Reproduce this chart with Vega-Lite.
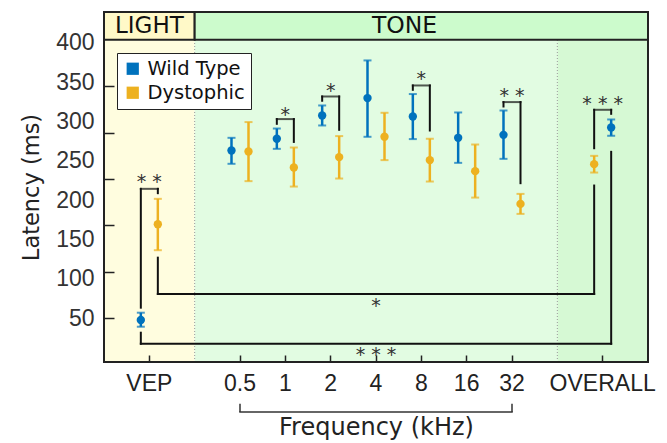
{
  "$schema": "https://vega.github.io/schema/vega-lite/v6.json",
  "width": 544,
  "height": 350,
  "autosize": {"type": "none"},
  "padding": {"left": 104, "top": 12, "right": 19, "bottom": 81},
  "background": "white",
  "config": {"view": {"stroke": null}, "axis": {"grid": false}},
  "datasets": {
    "stats": [
      {"cat": "VEP", "genotype": "Wild Type", "mean": 47.8, "lo": 39.3, "hi": 57.1},
      {"cat": "VEP", "genotype": "Dystophic", "mean": 169.5, "lo": 136.5, "hi": 201.7},
      {"cat": "0.5", "genotype": "Wild Type", "mean": 263.1, "lo": 246.2, "hi": 279.2},
      {"cat": "0.5", "genotype": "Dystophic", "mean": 261.8, "lo": 224.2, "hi": 299.2},
      {"cat": "1", "genotype": "Wild Type", "mean": 278, "lo": 265.2, "hi": 291},
      {"cat": "1", "genotype": "Dystophic", "mean": 241.5, "lo": 217.3, "hi": 266.9},
      {"cat": "2", "genotype": "Wild Type", "mean": 307.6, "lo": 294.9, "hi": 320.3},
      {"cat": "2", "genotype": "Dystophic", "mean": 254.7, "lo": 227.5, "hi": 281.4},
      {"cat": "4", "genotype": "Wild Type", "mean": 329.7, "lo": 280.5, "hi": 377.5},
      {"cat": "4", "genotype": "Dystophic", "mean": 280.5, "lo": 250.9, "hi": 311},
      {"cat": "8", "genotype": "Wild Type", "mean": 306.3, "lo": 277.6, "hi": 334.8},
      {"cat": "8", "genotype": "Dystophic", "mean": 250.9, "lo": 223.7, "hi": 278},
      {"cat": "16", "genotype": "Wild Type", "mean": 279.2, "lo": 247.4, "hi": 311.4},
      {"cat": "16", "genotype": "Dystophic", "mean": 236.9, "lo": 203.3, "hi": 270.7},
      {"cat": "32", "genotype": "Wild Type", "mean": 283, "lo": 252.5, "hi": 313.9},
      {"cat": "32", "genotype": "Dystophic", "mean": 195.3, "lo": 182.6, "hi": 208},
      {"cat": "OVERALL", "genotype": "Wild Type", "mean": 292.3, "lo": 281.8, "hi": 302.5},
      {"cat": "OVERALL", "genotype": "Dystophic", "mean": 245.8, "lo": 235.1, "hi": 256.3}
    ],
    "legs": [
      {"cat": "VEP", "genotype": "Wild Type", "from": 63.5, "to": 214.4},
      {"cat": "VEP", "genotype": "Dystophic", "from": 208.9, "to": 214.4},
      {"cat": "1", "genotype": "Wild Type", "from": 297, "to": 303},
      {"cat": "1", "genotype": "Dystophic", "from": 274, "to": 303},
      {"cat": "2", "genotype": "Wild Type", "from": 326.3, "to": 331.7},
      {"cat": "2", "genotype": "Dystophic", "from": 289.4, "to": 331.7},
      {"cat": "8", "genotype": "Wild Type", "from": 340.2, "to": 345.7},
      {"cat": "8", "genotype": "Dystophic", "from": 288.5, "to": 345.7},
      {"cat": "32", "genotype": "Wild Type", "from": 319, "to": 324.6},
      {"cat": "32", "genotype": "Dystophic", "from": 221.6, "to": 324.6},
      {"cat": "OVERALL", "genotype": "Dystophic", "from": 266, "to": 314.8},
      {"cat": "OVERALL", "genotype": "Wild Type", "from": 309.7, "to": 314.8},
      {"cat": "VEP", "genotype": "Dystophic", "from": 80.9, "to": 127},
      {"cat": "OVERALL", "genotype": "Dystophic", "from": 80.9, "to": 218.6},
      {"cat": "VEP", "genotype": "Wild Type", "from": 17.7, "to": 31.7},
      {"cat": "OVERALL", "genotype": "Wild Type", "from": 17.7, "to": 261.4}
    ],
    "bars": [
      {"cat": "VEP", "y": 214.4},
      {"cat": "1", "y": 303},
      {"cat": "2", "y": 331.7},
      {"cat": "8", "y": 345.7},
      {"cat": "32", "y": 324.6},
      {"cat": "OVERALL", "y": 314.8}
    ],
    "stars": [
      {"cat": "VEP", "y": 223, "label": "* *"},
      {"cat": "1", "y": 308.5, "label": "*"},
      {"cat": "2", "y": 338.2, "label": "*"},
      {"cat": "8", "y": 353.5, "label": "*"},
      {"cat": "32", "y": 332.3, "label": "* *"},
      {"cat": "OVERALL", "y": 321.7, "label": "* * *"},
      {"cat": "4", "y": 65.5, "label": "*"},
      {"cat": "4", "y": 3.5, "label": "* * *"}
    ]
  },
  "layer": [
    {
      "data": {"values": [{}]},
      "mark": {"type": "rect", "fill": "#FFFDDF"},
      "encoding": {
        "x": {"datum": "VEP", "type": "nominal", "bandPosition": -0.5, "scale": {"type": "band", "domain": ["VEP", "g1", "0.5", "1", "2", "4", "8", "16", "32", "g2", "OVERALL"], "paddingInner": 0, "paddingOuter": 0.5},
          "axis": {"orient": "bottom", "bandPosition": 0.5, "values": ["VEP", "0.5", "1", "2", "4", "8", "16", "32", "OVERALL"], "title": "Frequency (kHz)", "domain": false, "ticks": false, "labelFont": "Liberation Sans", "labelFontSize": 23, "labelColor": "#222", "labelPadding": 10, "labelAngle": 0, "titleFont": "DejaVu Sans", "titleFontSize": 24, "titleFontWeight": "normal", "titleColor": "#222", "titlePadding": 20, "zindex": 1}},
        "x2": {"datum": "g1", "bandPosition": 0.5},
        "y": {"datum": -5.5, "type": "quantitative", "scale": {"domain": [-5.5, 439], "nice": false, "zero": false},
          "axis": {"orient": "left", "values": [50, 100, 150, 200, 250, 300, 350, 400], "ticks": false, "domain": false, "grid": false, "labelFont": "Liberation Sans", "labelFontSize": 23, "labelColor": "#333", "labelPadding": 10, "title": "Latency (ms)", "titleFont": "DejaVu Sans", "titleFontSize": 22.5, "titleFontWeight": "normal", "titleColor": "#222", "titlePadding": 12, "zindex": 1}},
        "y2": {"datum": 403.8}
      }
    },
    {
      "data": {"values": [{}]},
      "mark": {"type": "rect", "fill": "#E2FCE2"},
      "encoding": {
        "x": {"datum": "g1", "type": "nominal", "bandPosition": 0.5, "scale": {"type": "band", "domain": ["VEP", "g1", "0.5", "1", "2", "4", "8", "16", "32", "g2", "OVERALL"], "paddingInner": 0, "paddingOuter": 0.5},
          "axis": {"orient": "top", "offset": -350, "bandPosition": 0.5, "values": ["VEP", "0.5", "1", "2", "4", "8", "16", "32", "OVERALL"], "labels": false, "domain": false, "ticks": true, "tickSize": 7, "tickColor": "#222", "tickWidth": 1.5, "title": null, "zindex": 2}},
        "x2": {"datum": "g2", "bandPosition": 0.5},
        "y": {"datum": -5.5, "type": "quantitative", "scale": {"domain": [-5.5, 439], "nice": false, "zero": false},
          "axis": {"orient": "right", "offset": -544, "values": [50.8, 109.3, 168.6, 226.7, 285.2, 344.4], "labels": false, "domain": false, "grid": false, "ticks": true, "tickSize": 10, "tickColor": "#222", "tickWidth": 1.5, "title": null, "zindex": 2}},
        "y2": {"datum": 403.8}
      }
    },
    {
      "data": {"values": [{}]},
      "mark": {"type": "rect", "fill": "#D6F9D4"},
      "encoding": {
        "x": {"datum": "g2", "type": "nominal", "bandPosition": 0.5, "scale": {"type": "band", "domain": ["VEP", "g1", "0.5", "1", "2", "4", "8", "16", "32", "g2", "OVERALL"], "paddingInner": 0, "paddingOuter": 0.5}, "axis": null},
        "x2": {"datum": "OVERALL", "bandPosition": 1.5},
        "y": {"datum": -5.5, "type": "quantitative", "scale": {"domain": [-5.5, 439], "nice": false, "zero": false}, "axis": null},
        "y2": {"datum": 403.8}
      }
    },
    {
      "data": {"values": [{"cat": "g1"}, {"cat": "g2"}]},
      "mark": {"type": "rule", "color": "#999999", "strokeWidth": 1, "strokeDash": [1, 2]},
      "encoding": {
        "x": {"field": "cat", "type": "nominal", "scale": {"type": "band", "domain": ["VEP", "g1", "0.5", "1", "2", "4", "8", "16", "32", "g2", "OVERALL"], "paddingInner": 0, "paddingOuter": 0.5}, "axis": null},
        "y": {"datum": -5.5, "type": "quantitative", "scale": {"domain": [-5.5, 439], "nice": false, "zero": false}, "axis": null},
        "y2": {"datum": 403.8}
      }
    },
    {
      "data": {"values": [{}]},
      "mark": {"type": "rect", "fill": "#FFF9C8", "stroke": "#222222", "strokeWidth": 2},
      "encoding": {
        "x": {"datum": "VEP", "type": "nominal", "bandPosition": -0.5, "scale": {"type": "band", "domain": ["VEP", "g1", "0.5", "1", "2", "4", "8", "16", "32", "g2", "OVERALL"], "paddingInner": 0, "paddingOuter": 0.5}, "axis": null},
        "x2": {"datum": "g1", "bandPosition": 0.5},
        "y": {"datum": 403.8, "type": "quantitative", "scale": {"domain": [-5.5, 439], "nice": false, "zero": false}, "axis": null},
        "y2": {"datum": 439}
      }
    },
    {
      "data": {"values": [{}]},
      "mark": {"type": "rect", "fill": "#CCFBCC", "stroke": "#222222", "strokeWidth": 2},
      "encoding": {
        "x": {"datum": "g1", "type": "nominal", "bandPosition": 0.5, "scale": {"type": "band", "domain": ["VEP", "g1", "0.5", "1", "2", "4", "8", "16", "32", "g2", "OVERALL"], "paddingInner": 0, "paddingOuter": 0.5}, "axis": null},
        "x2": {"datum": "OVERALL", "bandPosition": 1.5},
        "y": {"datum": 403.8, "type": "quantitative", "scale": {"domain": [-5.5, 439], "nice": false, "zero": false}, "axis": null},
        "y2": {"datum": 439}
      }
    },
    {
      "data": {"values": [{"label": "LIGHT"}]},
      "mark": {"type": "text", "font": "DejaVu Sans", "fontSize": 23, "color": "#111111", "baseline": "middle", "align": "center"},
      "encoding": {
        "x": {"datum": "VEP", "type": "nominal", "scale": {"type": "band", "domain": ["VEP", "g1", "0.5", "1", "2", "4", "8", "16", "32", "g2", "OVERALL"], "paddingInner": 0, "paddingOuter": 0.5}, "axis": null},
        "y": {"datum": 421.6, "type": "quantitative", "scale": {"domain": [-5.5, 439], "nice": false, "zero": false}, "axis": null},
        "text": {"field": "label"}
      }
    },
    {
      "data": {"values": [{"label": "TONE"}]},
      "mark": {"type": "text", "font": "DejaVu Sans", "fontSize": 23.5, "color": "#111111", "baseline": "middle", "align": "center"},
      "encoding": {
        "x": {"datum": "8", "type": "nominal", "bandPosition": 0.13, "scale": {"type": "band", "domain": ["VEP", "g1", "0.5", "1", "2", "4", "8", "16", "32", "g2", "OVERALL"], "paddingInner": 0, "paddingOuter": 0.5}, "axis": null},
        "y": {"datum": 421.6, "type": "quantitative", "scale": {"domain": [-5.5, 439], "nice": false, "zero": false}, "axis": null},
        "text": {"field": "label"}
      }
    },
    {
      "data": {"values": [{"cat": "0.5"}, {"cat": "32"}]},
      "mark": {"type": "rule", "color": "#333333", "strokeWidth": 1.5},
      "encoding": {
        "x": {"field": "cat", "type": "nominal", "scale": {"type": "band", "domain": ["VEP", "g1", "0.5", "1", "2", "4", "8", "16", "32", "g2", "OVERALL"], "paddingInner": 0, "paddingOuter": 0.5}, "axis": null},
        "y": {"datum": -58.6, "type": "quantitative", "scale": {"domain": [-5.5, 439], "nice": false, "zero": false}, "axis": null},
        "y2": {"datum": -69.1}
      }
    },
    {
      "data": {"values": [{}]},
      "mark": {"type": "rule", "color": "#333333", "strokeWidth": 1.5, "strokeCap": "square"},
      "encoding": {
        "x": {"datum": "0.5", "type": "nominal", "bandPosition": 0.5, "scale": {"type": "band", "domain": ["VEP", "g1", "0.5", "1", "2", "4", "8", "16", "32", "g2", "OVERALL"], "paddingInner": 0, "paddingOuter": 0.5}, "axis": null},
        "x2": {"datum": "32", "bandPosition": 0.5},
        "y": {"datum": -69.1, "type": "quantitative", "scale": {"domain": [-5.5, 439], "nice": false, "zero": false}, "axis": null}
      }
    },
    {
      "layer": [
        {
          "data": {"name": "stats"},
          "transform": [{"filter": "datum.cat != 'OVERALL'"}],
          "mark": {"type": "rule", "strokeWidth": 2.5},
          "encoding": {
            "x": {"field": "cat", "type": "nominal", "scale": {"type": "band", "domain": ["VEP", "g1", "0.5", "1", "2", "4", "8", "16", "32", "g2", "OVERALL"], "paddingInner": 0, "paddingOuter": 0.5}, "axis": null},
            "xOffset": {"field": "genotype", "type": "nominal", "scale": {"type": "band", "domain": ["Wild Type", "Dystophic"], "paddingInner": 0, "paddingOuter": 0.333}},
            "y": {"field": "lo", "type": "quantitative", "scale": {"domain": [-5.5, 439], "nice": false, "zero": false}, "axis": null},
            "y2": {"field": "hi"},
            "stroke": {"field": "genotype", "type": "nominal", "scale": {"domain": ["Dystophic", "Wild Type"], "range": ["#EDB120", "#0072BD"]}, "legend": null}
          }
        },
        {
          "data": {"name": "stats"},
          "transform": [{"filter": "datum.cat != 'OVERALL'"}],
          "mark": {"type": "tick", "thickness": 2, "size": 8, "orient": "horizontal"},
          "encoding": {
            "x": {"field": "cat", "type": "nominal", "scale": {"type": "band", "domain": ["VEP", "g1", "0.5", "1", "2", "4", "8", "16", "32", "g2", "OVERALL"], "paddingInner": 0, "paddingOuter": 0.5}, "axis": null},
            "xOffset": {"field": "genotype", "type": "nominal", "scale": {"type": "band", "domain": ["Wild Type", "Dystophic"], "paddingInner": 0, "paddingOuter": 0.333}},
            "y": {"field": "lo", "type": "quantitative", "scale": {"domain": [-5.5, 439], "nice": false, "zero": false}, "axis": null},
            "fill": {"field": "genotype", "type": "nominal", "scale": {"domain": ["Dystophic", "Wild Type", "none"], "range": ["#EDB120", "#0072BD", "#000000"]}, "legend": null}
          }
        },
        {
          "data": {"name": "stats"},
          "transform": [{"filter": "datum.cat != 'OVERALL'"}],
          "mark": {"type": "tick", "thickness": 2, "size": 8, "orient": "horizontal"},
          "encoding": {
            "x": {"field": "cat", "type": "nominal", "scale": {"type": "band", "domain": ["VEP", "g1", "0.5", "1", "2", "4", "8", "16", "32", "g2", "OVERALL"], "paddingInner": 0, "paddingOuter": 0.5}, "axis": null},
            "xOffset": {"field": "genotype", "type": "nominal", "scale": {"type": "band", "domain": ["Wild Type", "Dystophic"], "paddingInner": 0, "paddingOuter": 0.333}},
            "y": {"field": "hi", "type": "quantitative", "scale": {"domain": [-5.5, 439], "nice": false, "zero": false}, "axis": null},
            "fill": {"field": "genotype", "type": "nominal", "scale": {"domain": ["Dystophic", "Wild Type", "none"], "range": ["#EDB120", "#0072BD", "#000000"]}, "legend": null}
          }
        },
        {
          "data": {"name": "stats"},
          "transform": [{"filter": "datum.cat != 'OVERALL'"}],
          "mark": {"type": "circle", "size": 70, "opacity": 1},
          "encoding": {
            "x": {"field": "cat", "type": "nominal", "scale": {"type": "band", "domain": ["VEP", "g1", "0.5", "1", "2", "4", "8", "16", "32", "g2", "OVERALL"], "paddingInner": 0, "paddingOuter": 0.5}, "axis": null},
            "xOffset": {"field": "genotype", "type": "nominal", "scale": {"type": "band", "domain": ["Wild Type", "Dystophic"], "paddingInner": 0, "paddingOuter": 0.333}},
            "y": {"field": "mean", "type": "quantitative", "scale": {"domain": [-5.5, 439], "nice": false, "zero": false}, "axis": null},
            "color": {"field": "genotype", "type": "nominal", "scale": {"domain": ["Wild Type", "Dystophic"], "range": ["#0072BD", "#EDB120"]},
              "legend": {"orient": "none", "legendX": 13, "legendY": 41, "title": null, "symbolType": "square", "symbolSize": 150, "symbolStrokeWidth": 0, "labelFont": "DejaVu Sans", "labelFontSize": 19.5, "labelColor": "#111", "labelOffset": 5, "strokeColor": "#222", "fillColor": "white", "padding": 6, "rowPadding": 3}}
          }
        },
        {
          "data": {"name": "legs"},
          "transform": [{"filter": "datum.cat != 'OVERALL'"}],
          "mark": {"type": "rule", "color": "#111111", "strokeWidth": 2, "strokeCap": "square"},
          "encoding": {
            "x": {"field": "cat", "type": "nominal", "scale": {"type": "band", "domain": ["VEP", "g1", "0.5", "1", "2", "4", "8", "16", "32", "g2", "OVERALL"], "paddingInner": 0, "paddingOuter": 0.5}, "axis": null},
            "xOffset": {"field": "genotype", "type": "nominal", "scale": {"type": "band", "domain": ["Wild Type", "Dystophic"], "paddingInner": 0, "paddingOuter": 0.333}},
            "y": {"field": "from", "type": "quantitative", "scale": {"domain": [-5.5, 439], "nice": false, "zero": false}, "axis": null},
            "y2": {"field": "to"}
          }
        }
      ]
    },
    {
      "layer": [
        {
          "data": {"name": "stats"},
          "transform": [{"filter": "datum.cat == 'OVERALL'"}],
          "mark": {"type": "rule", "strokeWidth": 2.5},
          "encoding": {
            "x": {"field": "cat", "type": "nominal", "scale": {"type": "band", "domain": ["VEP", "g1", "0.5", "1", "2", "4", "8", "16", "32", "g2", "OVERALL"], "paddingInner": 0, "paddingOuter": 0.5}, "axis": null},
            "xOffset": {"field": "genotype", "type": "nominal", "scale": {"type": "band", "domain": ["Dystophic", "Wild Type"], "paddingInner": 0, "paddingOuter": 0.333}},
            "y": {"field": "lo", "type": "quantitative", "scale": {"domain": [-5.5, 439], "nice": false, "zero": false}, "axis": null},
            "y2": {"field": "hi"},
            "stroke": {"field": "genotype", "type": "nominal", "scale": {"domain": ["Dystophic", "Wild Type"], "range": ["#EDB120", "#0072BD"]}, "legend": null}
          }
        },
        {
          "data": {"name": "stats"},
          "transform": [{"filter": "datum.cat == 'OVERALL'"}],
          "mark": {"type": "tick", "thickness": 2, "size": 8, "orient": "horizontal"},
          "encoding": {
            "x": {"field": "cat", "type": "nominal", "scale": {"type": "band", "domain": ["VEP", "g1", "0.5", "1", "2", "4", "8", "16", "32", "g2", "OVERALL"], "paddingInner": 0, "paddingOuter": 0.5}, "axis": null},
            "xOffset": {"field": "genotype", "type": "nominal", "scale": {"type": "band", "domain": ["Dystophic", "Wild Type"], "paddingInner": 0, "paddingOuter": 0.333}},
            "y": {"field": "lo", "type": "quantitative", "scale": {"domain": [-5.5, 439], "nice": false, "zero": false}, "axis": null},
            "fill": {"field": "genotype", "type": "nominal", "scale": {"domain": ["Dystophic", "Wild Type", "none"], "range": ["#EDB120", "#0072BD", "#000000"]}, "legend": null}
          }
        },
        {
          "data": {"name": "stats"},
          "transform": [{"filter": "datum.cat == 'OVERALL'"}],
          "mark": {"type": "tick", "thickness": 2, "size": 8, "orient": "horizontal"},
          "encoding": {
            "x": {"field": "cat", "type": "nominal", "scale": {"type": "band", "domain": ["VEP", "g1", "0.5", "1", "2", "4", "8", "16", "32", "g2", "OVERALL"], "paddingInner": 0, "paddingOuter": 0.5}, "axis": null},
            "xOffset": {"field": "genotype", "type": "nominal", "scale": {"type": "band", "domain": ["Dystophic", "Wild Type"], "paddingInner": 0, "paddingOuter": 0.333}},
            "y": {"field": "hi", "type": "quantitative", "scale": {"domain": [-5.5, 439], "nice": false, "zero": false}, "axis": null},
            "fill": {"field": "genotype", "type": "nominal", "scale": {"domain": ["Dystophic", "Wild Type", "none"], "range": ["#EDB120", "#0072BD", "#000000"]}, "legend": null}
          }
        },
        {
          "data": {"name": "stats"},
          "transform": [{"filter": "datum.cat == 'OVERALL'"}],
          "mark": {"type": "circle", "size": 70, "opacity": 1},
          "encoding": {
            "x": {"field": "cat", "type": "nominal", "scale": {"type": "band", "domain": ["VEP", "g1", "0.5", "1", "2", "4", "8", "16", "32", "g2", "OVERALL"], "paddingInner": 0, "paddingOuter": 0.5}, "axis": null},
            "xOffset": {"field": "genotype", "type": "nominal", "scale": {"type": "band", "domain": ["Dystophic", "Wild Type"], "paddingInner": 0, "paddingOuter": 0.333}},
            "y": {"field": "mean", "type": "quantitative", "scale": {"domain": [-5.5, 439], "nice": false, "zero": false}, "axis": null},
            "color": {"field": "genotype", "type": "nominal", "scale": {"domain": ["Wild Type", "Dystophic"], "range": ["#0072BD", "#EDB120"]},
              "legend": {"orient": "none", "legendX": 13, "legendY": 41, "title": null, "symbolType": "square", "symbolSize": 150, "symbolStrokeWidth": 0, "labelFont": "DejaVu Sans", "labelFontSize": 19.5, "labelColor": "#111", "labelOffset": 5, "strokeColor": "#222", "fillColor": "white", "padding": 6, "rowPadding": 3}}
          }
        },
        {
          "data": {"name": "legs"},
          "transform": [{"filter": "datum.cat == 'OVERALL'"}],
          "mark": {"type": "rule", "color": "#111111", "strokeWidth": 2, "strokeCap": "square"},
          "encoding": {
            "x": {"field": "cat", "type": "nominal", "scale": {"type": "band", "domain": ["VEP", "g1", "0.5", "1", "2", "4", "8", "16", "32", "g2", "OVERALL"], "paddingInner": 0, "paddingOuter": 0.5}, "axis": null},
            "xOffset": {"field": "genotype", "type": "nominal", "scale": {"type": "band", "domain": ["Dystophic", "Wild Type"], "paddingInner": 0, "paddingOuter": 0.333}},
            "y": {"field": "from", "type": "quantitative", "scale": {"domain": [-5.5, 439], "nice": false, "zero": false}, "axis": null},
            "y2": {"field": "to"}
          }
        }
      ]
    },
    {
      "data": {"name": "bars"},
      "mark": {"type": "tick", "color": "#111111", "thickness": 2, "size": 19, "orient": "horizontal"},
      "encoding": {
        "x": {"field": "cat", "type": "nominal", "scale": {"type": "band", "domain": ["VEP", "g1", "0.5", "1", "2", "4", "8", "16", "32", "g2", "OVERALL"], "paddingInner": 0, "paddingOuter": 0.5}, "axis": null},
        "y": {"field": "y", "type": "quantitative", "scale": {"domain": [-5.5, 439], "nice": false, "zero": false}, "axis": null}
      }
    },
    {
      "data": {"values": [{}]},
      "mark": {"type": "rule", "color": "#111111", "strokeWidth": 2, "strokeCap": "square"},
      "encoding": {
        "x": {"datum": "VEP", "type": "nominal", "bandPosition": 0.6875, "scale": {"type": "band", "domain": ["VEP", "g1", "0.5", "1", "2", "4", "8", "16", "32", "g2", "OVERALL"], "paddingInner": 0, "paddingOuter": 0.5}, "axis": null},
        "x2": {"datum": "OVERALL", "bandPosition": 0.3125},
        "y": {"datum": 80.9, "type": "quantitative", "scale": {"domain": [-5.5, 439], "nice": false, "zero": false}, "axis": null}
      }
    },
    {
      "data": {"values": [{}]},
      "mark": {"type": "rule", "color": "#111111", "strokeWidth": 2, "strokeCap": "square"},
      "encoding": {
        "x": {"datum": "VEP", "type": "nominal", "bandPosition": 0.3125, "scale": {"type": "band", "domain": ["VEP", "g1", "0.5", "1", "2", "4", "8", "16", "32", "g2", "OVERALL"], "paddingInner": 0, "paddingOuter": 0.5}, "axis": null},
        "x2": {"datum": "OVERALL", "bandPosition": 0.6875},
        "y": {"datum": 17.7, "type": "quantitative", "scale": {"domain": [-5.5, 439], "nice": false, "zero": false}, "axis": null}
      }
    },
    {
      "data": {"name": "stars"},
      "mark": {"type": "text", "font": "DejaVu Sans", "fontSize": 19, "color": "#333333", "baseline": "middle", "align": "center"},
      "encoding": {
        "x": {"field": "cat", "type": "nominal", "scale": {"type": "band", "domain": ["VEP", "g1", "0.5", "1", "2", "4", "8", "16", "32", "g2", "OVERALL"], "paddingInner": 0, "paddingOuter": 0.5}, "axis": null},
        "y": {"field": "y", "type": "quantitative", "scale": {"domain": [-5.5, 439], "nice": false, "zero": false}, "axis": null},
        "text": {"field": "label"}
      }
    },
    {
      "data": {"values": [{}]},
      "mark": {"type": "rect", "fillOpacity": 0, "stroke": "#222222", "strokeWidth": 2},
      "encoding": {
        "x": {"datum": "VEP", "type": "nominal", "bandPosition": -0.5, "scale": {"type": "band", "domain": ["VEP", "g1", "0.5", "1", "2", "4", "8", "16", "32", "g2", "OVERALL"], "paddingInner": 0, "paddingOuter": 0.5}, "axis": null},
        "x2": {"datum": "OVERALL", "bandPosition": 1.5},
        "y": {"datum": -5.5, "type": "quantitative", "scale": {"domain": [-5.5, 439], "nice": false, "zero": false}, "axis": null},
        "y2": {"datum": 439}
      }
    }
  ],
  "resolve": {"scale": {"xOffset": "independent"}, "axis": {"x": "independent", "y": "independent"}}
}
